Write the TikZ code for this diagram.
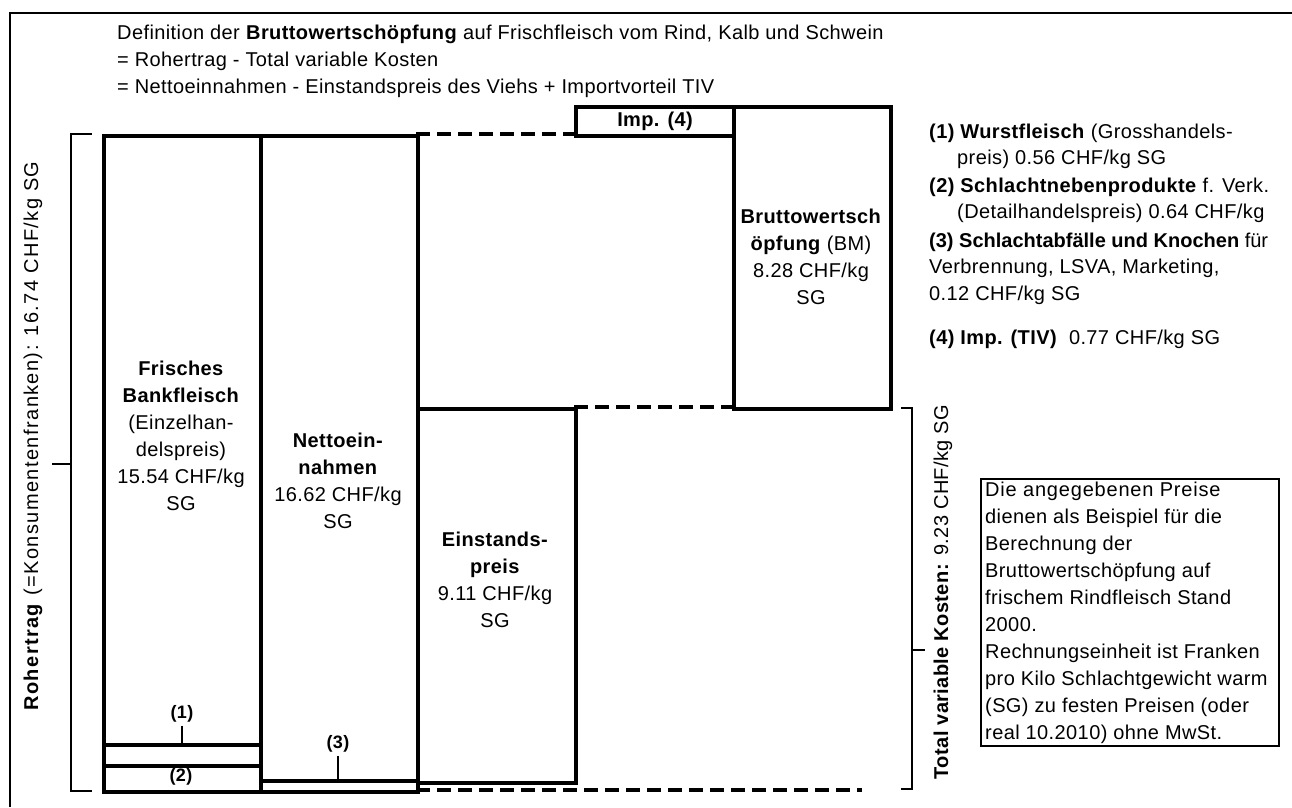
\documentclass[tikz,border=0pt]{standalone}
\usepackage{fontspec}
\setmainfont{Liberation Sans}[LetterSpace=2]
\begin{document}
\begin{tikzpicture}[x=1pt,y=-1pt,
  box/.style={draw, line width=4pt, inner sep=0pt, anchor=north west},
  thickline/.style={line width=4pt},
  dashline/.style={line width=4pt, dash pattern=on 14pt off 7pt},
  brack/.style={line width=1.6pt},
  frame/.style={line width=2.5pt},
  txt/.style={font=\fontsize{20}{27}\selectfont, inner sep=0pt, align=center},
  lg/.style={font=\fontsize{20}{27}\selectfont, inner sep=0pt, anchor=base west},
  num/.style={font=\bfseries\fontsize{18}{20}\selectfont, inner sep=0pt},
  tick/.style={line width=1.4pt}
]
\useasboundingbox (0,0) rectangle (1292,807);
\draw[frame] (10,807) -- (10,13) -- (1292,13);

% header
\node[lg] (h1) at (117,39) {Definition der \textbf{Bruttowertschöpfung} auf Frischfleisch vom Rind, Kalb und Schwein};
\node[lg] (h2) at (117,66) {= Rohertrag - Total variable Kosten};
\node[lg] (h3) at (117,93) {= Nettoeinnahmen - Einstandspreis des Viehs + Importvorteil TIV};

% boxes
\node[box, minimum width=157pt, minimum height=656pt] (bank) at (102,134) {};
\node[box, minimum width=157pt, minimum height=656pt] (netto) at (259,134) {};
\node[box, minimum width=158pt, minimum height=374pt] (einst) at (416,407) {};
\node[box, minimum width=158pt, minimum height=29pt] (imp) at (574,105) {};
\node[box, minimum width=157pt, minimum height=302pt] (bm) at (732,105) {};

\draw[thickline] (102,745) -- (259,745);
\draw[thickline] (102,766) -- (259,766);
\draw[thickline] (259,781) -- (416,781);
\draw[dashline] (416,134) -- (574,134);
\draw[dashline] (574,407) -- (732,407);
\draw[dashline] (416,790) -- (862,790);

% brackets
\draw[brack] (92,134) -- (71,134) -- (71,791) -- (92,791);
\draw[brack] (71,464) -- (52,464);
\draw[brack] (901,408) -- (912,408) -- (912,789) -- (901,789);
\draw[brack] (912,650) -- (925,650);

% box texts
\node[txt] (banktxt) at (181,436) {\textbf{Frisches}\\\textbf{Bankfleisch}\\(Einzelhan-\\delspreis)\\15.54 CHF/kg\\SG};
\node[txt] (nettotxt) at (338,481) {\textbf{Nettoein-}\\\textbf{nahmen}\\16.62 CHF/kg\\SG};
\node[txt] (einsttxt) at (495,580) {\textbf{Einstands-}\\\textbf{preis}\\9.11 CHF/kg\\SG};
\node[txt] (bmtxt) at (811,257) {\textbf{Bruttowertsch}\\\textbf{öpfung} (BM)\\8.28 CHF/kg\\SG};
\node[txt, font=\bfseries\fontsize{20}{27}\selectfont] (imptxt) at (imp.center) {Imp. (4)};

% small labels
\node[num] (l1) at (182,714) {(1)};
\coordinate (c1) at (182,745);
\draw[tick] ([yshift=-3pt]l1.south) -- (c1);
\node[num] (l2) at (181,777) {(2)};
\node[num] (l3) at (338,744) {(3)};
\coordinate (c3) at (338,781);
\draw[tick] ([yshift=-3pt]l3.south) -- (c3);

% legend
\node[lg] (g1a) at (929,138) {\textbf{(1) Wurstfleisch} (Grosshandels-};
\node[lg] (g1b) at (957,164) {preis) 0.56 CHF/kg SG};
\node[lg] (g2a) at (929,192) {\textbf{(2) Schlachtnebenprodukte} f. Verk.};
\node[lg] (g2b) at (957,218) {(Detailhandelspreis) 0.64 CHF/kg};
\node[lg] (g3a) at (929,247) {\addfontfeatures{LetterSpace=0}\textbf{(3) Schlachtabfälle und Knochen} für};
\node[lg] (g3b) at (929,273) {Verbrennung, LSVA, Marketing,};
\node[lg] (g3c) at (929,300) {0.12 CHF/kg SG};
\node[lg] (g4) at (929,344) {\textbf{(4) Imp. (TIV)}\ \ 0.77 CHF/kg SG};

% note box
\node[draw, line width=2pt, minimum width=298pt, minimum height=267pt, anchor=north west, inner sep=0pt] (note) at (980,478) {};
\node[txt, align=left, anchor=north west] (notetxt) at (985,482) {\addfontfeatures{LetterSpace=4}Die angegebenen Preise\\dienen als Beispiel für die\\Berechnung der\\Bruttowertschöpfung auf\\frischem Rindfleisch Stand\\2000.\\Rechnungseinheit ist Franken\\pro Kilo Schlachtgewicht warm\\(SG) zu festen Preisen (oder\\real 10.2010) ohne MwSt.};

% rotated labels
\node[txt, rotate=90] (roh) at (33,436) {\addfontfeatures{LetterSpace=7}\textbf{Rohertrag} (=Konsumentenfranken): 16.74 CHF/kg SG};
\node[txt, rotate=90] (tvk) at (943,592) {\textbf{Total variable Kosten:} 9.23 CHF/kg SG};
\end{tikzpicture}
\end{document}
